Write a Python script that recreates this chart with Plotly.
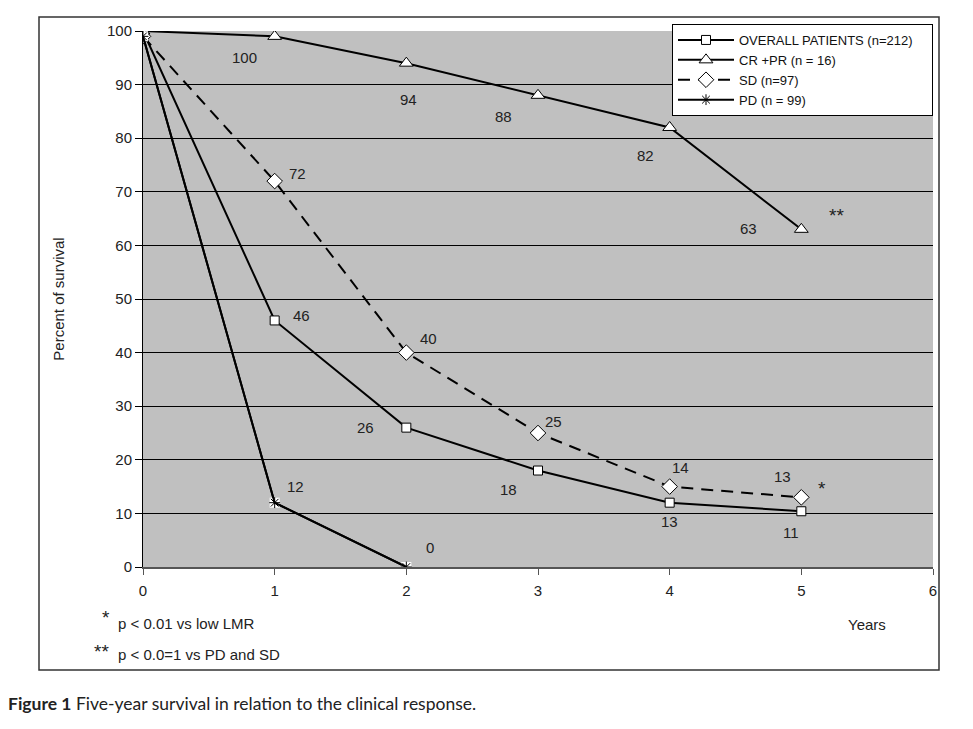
import plotly.graph_objects as go

years = [0, 1, 2, 3, 4, 5]
overall = [100, 46, 26, 18, 12, 10.4]
overall_labels = [None, "46", "26", "18", "13", "11"]
crpr = [100, 99, 94, 88, 82, 63]
crpr_labels = [None, "100", "94", "88", "82", "63"]
sd = [99, 72, 40, 25, 15, 13]
sd_labels = [None, "72", "40", "25", "14", "13"]
pd_years = [0, 1, 2]
pdv = [99, 12, 0]
pd_labels = [None, "12", "0"]

# label offsets in pixels (dx, dy up)
overall_off = [None, (27, 5), (-41, 0), (-30, -19), (0, -19), (-10, -21)]
crpr_off = [None, (-30, -21), (2, -36), (-35, -21), (-24, -28), (-53, 1)]
sd_off = [None, (23, 8), (22, 14), (15, 12), (11, 19), (-19, 21)]
pd_off = [None, (21, 16), (24, 20)]

FONT = "Liberation Sans, Arial, sans-serif"
OFF = 8  # page body margin
W, H = 973 - OFF, 729 - OFF
# plot area in screen pixels
L, R, T, B = 143, 933, 31, 567

NB = "\u00a0"

fig = go.Figure()

fig.add_trace(go.Scatter(
    x=years, y=overall, mode="lines+markers", name="OVERALL PATIENTS (n=212)" + NB * 4,
    line=dict(color="black", width=2),
    marker=dict(symbol="square", size=9, color="white", line=dict(color="black", width=1)),
))
fig.add_trace(go.Scatter(
    x=years, y=crpr, mode="lines+markers", name="CR +PR (n = 16)",
    line=dict(color="black", width=2),
    marker=dict(symbol="triangle-up", size=12, color="white", line=dict(color="black", width=1)),
))
fig.add_trace(go.Scatter(
    x=years, y=sd, mode="lines+markers", name="SD (n=97)",
    line=dict(color="black", width=2, dash="12px,8px"),
    marker=dict(symbol="diamond", size=12, color="white", line=dict(color="black", width=1)),
))
fig.add_trace(go.Scatter(
    x=pd_years, y=pdv, mode="lines", name="PD (n = 99)",
    line=dict(color="black", width=2), showlegend=False,
))
fig.add_trace(go.Scatter(
    x=pd_years, y=pdv, mode="markers", showlegend=False, hoverinfo="skip",
    marker=dict(symbol="square", size=10, color="white", line=dict(width=0)),
))
fig.add_trace(go.Scatter(
    x=pd_years, y=pdv, mode="lines+markers", name="PD (n = 99)",
    line=dict(color="black", width=2),
    marker=dict(symbol="asterisk-open", size=9, color="black", line=dict(color="black", width=1)),
))

LBL = dict(family=FONT, size=15, color="#222")
STAR = dict(family=FONT, size=19, color="#222")
annotations = []
def add_labels(xs, ys, labels, offs):
    for x, y, lab, off in zip(xs, ys, labels, offs):
        if lab is None:
            continue
        annotations.append(dict(x=x, y=y, xref="x", yref="y", text=lab, showarrow=False,
                                xanchor="center", yanchor="middle",
                                xshift=off[0], yshift=off[1], font=LBL))

add_labels(years, overall, overall_labels, overall_off)
add_labels(years, crpr, crpr_labels, crpr_off)
add_labels(years, sd, sd_labels, sd_off)
add_labels(pd_years, pdv, pd_labels, pd_off)

# significance markers
annotations.append(dict(x=years[5], y=crpr[5], xref="x", yref="y", text="**", showarrow=False,
                        xanchor="center", yanchor="middle",
                        xshift=35, yshift=14, font=STAR))
annotations.append(dict(x=years[5], y=sd[5], xref="x", yref="y", text="*", showarrow=False,
                        xanchor="center", yanchor="middle",
                        xshift=21, yshift=9, font=STAR))

def px(xp):
    return (xp - L) / (R - L)
def py(yp):
    return (B - yp) / (B - T)

def note(xp, yp, text, xanchor="center", font=LBL):
    return dict(x=px(xp), y=py(yp), xref="paper", yref="paper", text=text, showarrow=False,
                xanchor=xanchor, yanchor="middle", font=font)

annotations += [
    note(867, 624, "Years"),
    note(116, 623, "p < 0.01 vs low LMR", "left"),
    note(106, 617, "*", font=STAR),
    note(116, 654, "p < 0.0=1 vs PD and SD", "left"),
    note(101, 651, "**", font=STAR),
    note(OFF - 2, 703, "<b>Figure 1</b> Five-year survival in relation to the clinical response.", "left",
         dict(family="Lato, Open Sans, sans-serif", size=17.5, color="#222")),
]

shapes = [
    dict(type="rect", xref="paper", yref="paper", x0=px(39), x1=px(939), y0=py(670), y1=py(17),
         line=dict(color="#333", width=1.5), fillcolor="rgba(0,0,0,0)", layer="below"),
]

fig.update_layout(
    width=W, height=H,
    margin=dict(l=L - OFF, r=W - (R - OFF), t=T - OFF, b=H - (B - OFF), autoexpand=False),
    paper_bgcolor="white", plot_bgcolor="#C0C0C0",
    font=dict(family=FONT, size=15, color="#222"),
    showlegend=True,
    legend=dict(x=1, y=py(24), xanchor="right", yanchor="top",
                bgcolor="white", bordercolor="black", borderwidth=1,
                font=dict(family=FONT, size=13, color="#111"),
                tracegroupgap=0, itemwidth=56),
    annotations=annotations, shapes=shapes,
)
fig.update_xaxes(range=[0, 6], tickvals=[0, 1, 2, 3, 4, 5, 6], showgrid=False, zeroline=False,
                 showline=True, linecolor="#555", linewidth=2, ticks="outside", ticklen=6,
                 tickcolor="#555", tickfont=LBL, ticklabelstandoff=3)
fig.update_yaxes(range=[0, 100], tickvals=list(range(0, 101, 10)), showgrid=True, gridcolor="black",
                 gridwidth=1, zeroline=False, showline=True, linecolor="black", linewidth=1,
                 ticks="outside", ticklen=7, tickcolor="black", tickfont=LBL,
                 title=dict(text="Percent of survival", font=LBL, standoff=38))

fig.write_html("out.html")
